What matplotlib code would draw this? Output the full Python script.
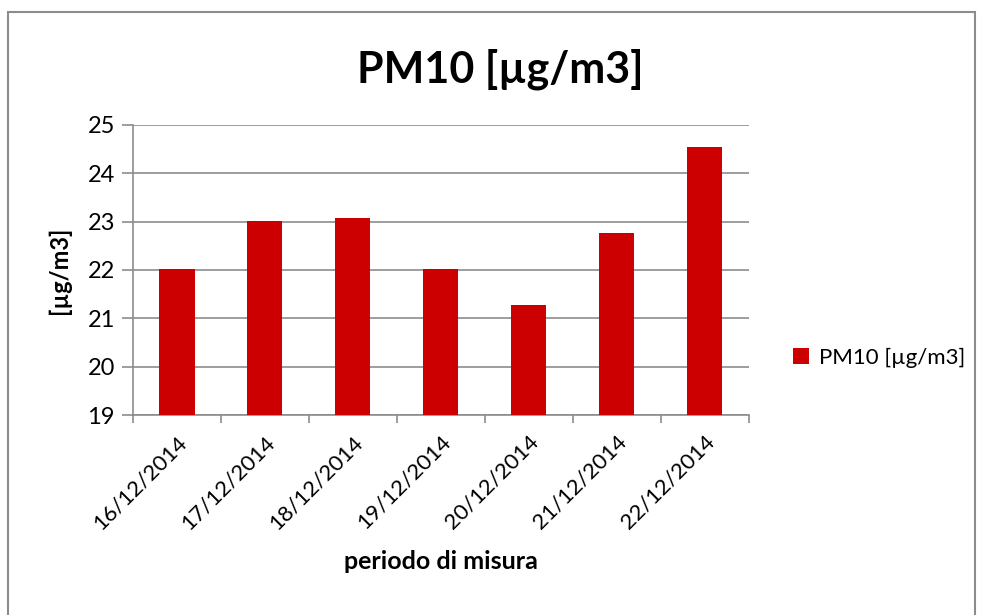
import numpy as np
import matplotlib.pyplot as plt
from matplotlib.patches import Rectangle

# data
dates = ['16/12/2014', '17/12/2014', '18/12/2014', '19/12/2014',
         '20/12/2014', '21/12/2014', '22/12/2014']
pm10 = [22.03, 23.02, 23.08, 22.02, 21.28, 22.76, 24.55]
series_name = 'PM10 [µg/m3]'

plt.rcParams['font.family'] = ['Lato', 'DejaVu Sans']

fig = plt.figure(figsize=(9.85, 6.15), dpi=100)
ax = fig.add_axes([0.135, 0.325, 0.625, 0.472])

x = np.arange(len(dates))
ax.bar(x, pm10, width=0.4, color='#CC0000', label=series_name, zorder=3)

ax.set_ylim(19, 25)
ax.set_xlim(-0.5, len(dates) - 0.5)
ax.set_yticks(range(19, 26))
ax.grid(axis='y', color='#8c8c8c', linewidth=1.2, zorder=0)

# ticks at category boundaries, labels in the middle
ax.set_xticks(np.arange(-0.5, len(dates)), minor=False)
ax.set_xticklabels([])
ax.set_xticks(x, minor=True)
ax.set_xticklabels(dates, minor=True, rotation=45, ha='right',
                   rotation_mode='anchor', fontsize=16)
ax.tick_params(axis='x', which='minor', length=0, pad=12)
ax.tick_params(axis='x', which='major', length=6, color='#8c8c8c', width=1.2)
ax.tick_params(axis='y', length=8, color='#8c8c8c', width=1.2, labelsize=17, pad=5)

for s in ['top', 'right']:
    ax.spines[s].set_visible(False)
for s in ['left', 'bottom']:
    ax.spines[s].set_color('#8c8c8c')
    ax.spines[s].set_linewidth(1.2)

ax.set_xlabel('periodo di misura', fontsize=18, fontweight='bold', labelpad=12)
ax.set_ylabel('[µg/m3]', fontsize=17, fontweight='bold', labelpad=12)

fig.text(0.508, 0.888, 'PM10 [µg/m3]', fontsize=31, fontweight='bold',
         ha='center', va='center')

fig.legend(loc='center left', bbox_to_anchor=(793 / 985, 0.418), frameon=False,
           borderpad=0, borderaxespad=0,
           fontsize=16, handlelength=0.7, handleheight=0.7, handletextpad=0.45)

# chart border
fig.patches.append(Rectangle((8 / 985, -0.01), 967 / 985, 1 - 12 / 615 + 0.01,
                             transform=fig.transFigure, fill=False,
                             edgecolor='#8c8c8c', linewidth=1.5))

fig.savefig('out.png', dpi=100)
